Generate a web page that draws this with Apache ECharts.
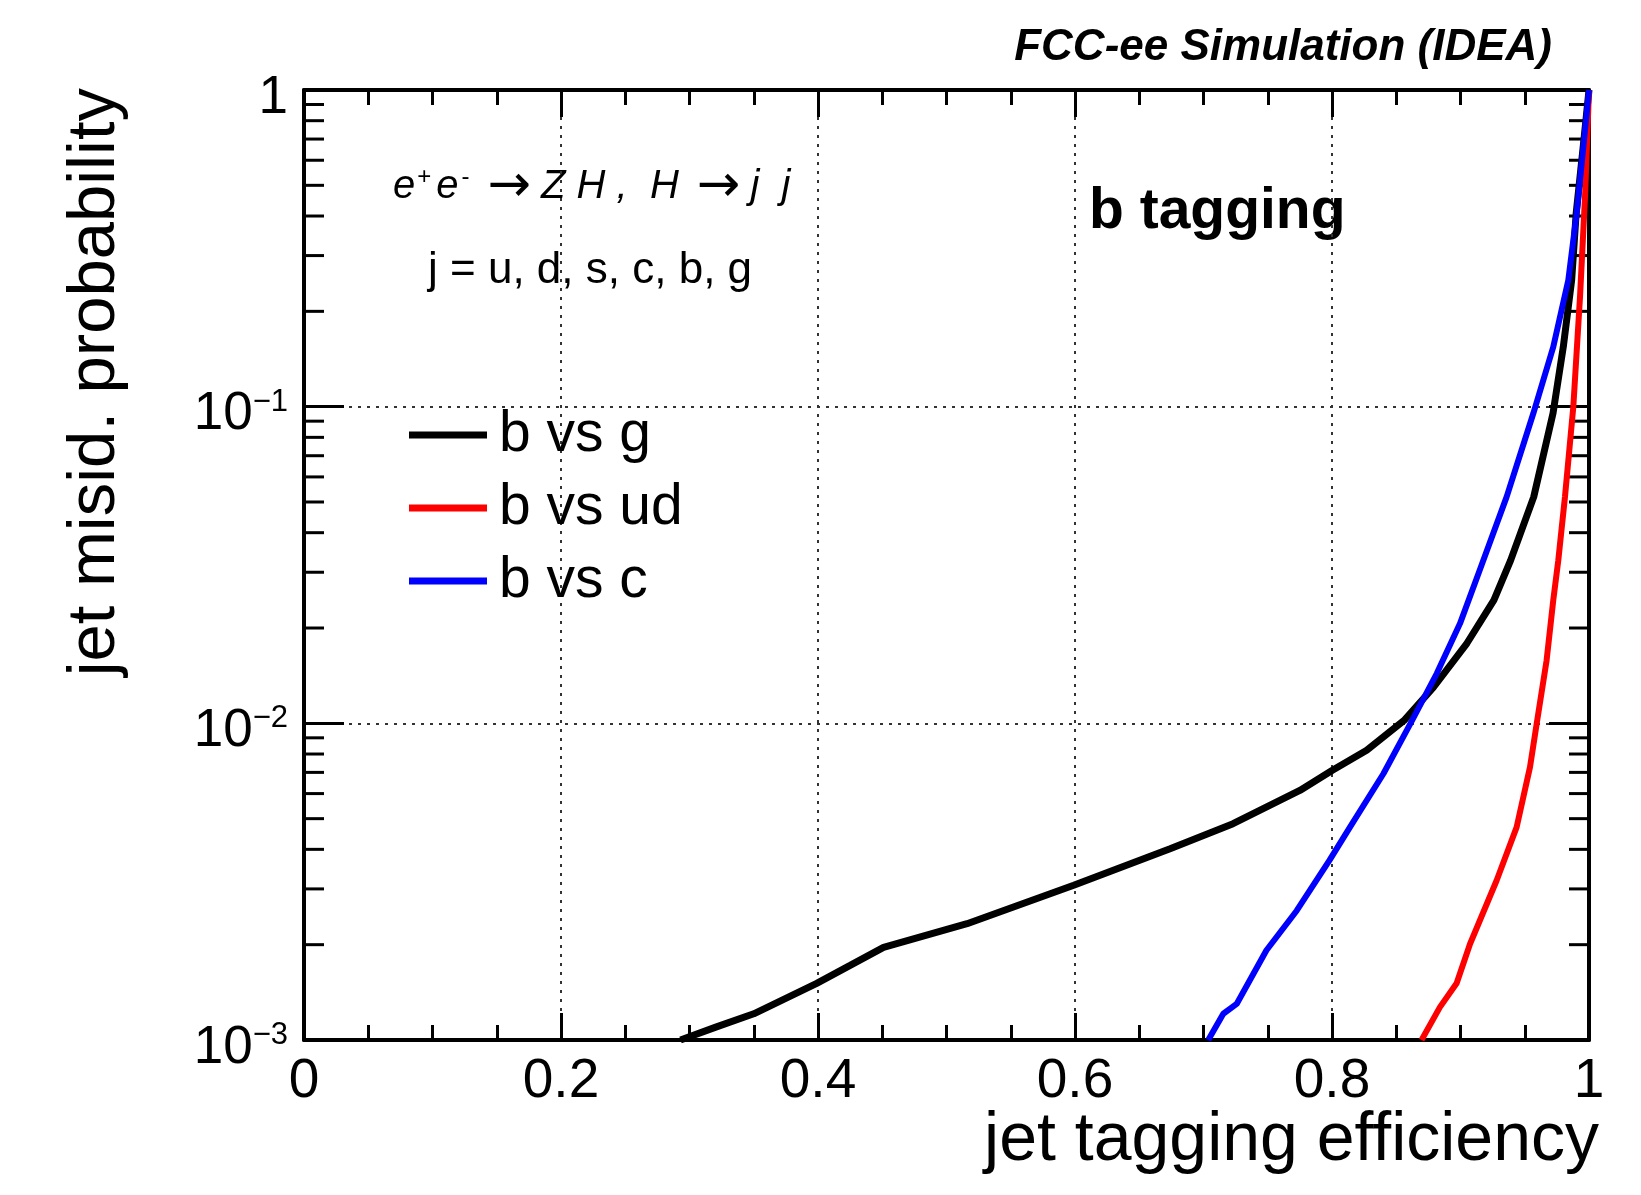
<!DOCTYPE html>
<html>
<head>
<meta charset="utf-8">
<title>b tagging</title>
<script src="https://cdn.jsdelivr.net/npm/echarts@6/dist/echarts.min.js"></script>
<style>
  html, body { margin: 0; padding: 0; background: #fff; }
  #chart { width: 1641px; height: 1195px; }
</style>
</head>
<body>
<div id="chart"></div>
<script>
// jet tagging efficiency vs misid. probability
const effBvsG = [0.293, 0.321, 0.350, 0.399, 0.425, 0.451, 0.516, 0.599, 0.674, 0.723, 0.775, 0.800, 0.827, 0.856, 0.879, 0.905, 0.926, 0.939, 0.957, 0.972, 0.980, 0.9865, 0.990, 0.9955, 1.0]
const misBvsG = [0.001, 0.0011, 0.00121, 0.00151, 0.00172, 0.00196, 0.00233, 0.00308, 0.00402, 0.00482, 0.00614, 0.0071, 0.00822, 0.0102, 0.0130, 0.0179, 0.0245, 0.0327, 0.0519, 0.0953, 0.1545, 0.251, 0.407, 0.662, 1.0]

const effBvsUd = [0.8697, 0.884, 0.897, 0.9074, 0.9281, 0.9437, 0.9541, 0.9593, 0.967, 0.9722, 0.9761, 0.9813, 0.9878, 0.993, 0.9969, 1.0]
const misBvsUd = [0.001, 0.00127, 0.00151, 0.00201, 0.00319, 0.0047, 0.00728, 0.00998, 0.0158, 0.0245, 0.0327, 0.0519, 0.1, 0.222, 0.46, 1.0]

const effBvsC = [0.7037, 0.7154, 0.7258, 0.749, 0.7725, 0.798, 0.814, 0.840, 0.861, 0.8815, 0.8996, 0.915, 0.9359, 0.9567, 0.9722, 0.9839, 0.9904, 0.9943, 0.9982, 1.0]
const misBvsC = [0.001, 0.00121, 0.0013, 0.00192, 0.00256, 0.00369, 0.0047, 0.00693, 0.00998, 0.01436, 0.02065, 0.0305, 0.0519, 0.0953, 0.1545, 0.251, 0.407, 0.586, 0.843, 1.0]

const seriesNames = ['b vs g', 'b vs ud', 'b vs c']

// log minor tick positions (2..9 x each decade)
const yMinorTicks = [0.002, 0.003, 0.004, 0.005, 0.006, 0.007, 0.008, 0.009,
  0.02, 0.03, 0.04, 0.05, 0.06, 0.07, 0.08, 0.09,
  0.2, 0.3, 0.4, 0.5, 0.6, 0.7, 0.8, 0.9]

const FONT = "'Liberation Sans', Arial, Helvetica, sans-serif"

const pairs = (xs, ys) => xs.map((x, i) => [x, ys[i]])

const gridLine = { show: true, lineStyle: { color: '#333', width: 2, type: [3, 6] } }
const frameLine = { show: true, onZero: false, lineStyle: { color: '#000', width: 4 } }

const myChart = echarts.init(document.getElementById('chart'))

const option = {
  backgroundColor: '#fff',
  animation: false,
  textStyle: { fontFamily: FONT, color: '#000' },
  grid: { left: 304, right: 52, top: 90, bottom: 155 },
  legend: {
    orient: 'vertical',
    left: 404,
    top: 400,
    itemWidth: 78,
    itemHeight: 7,
    itemGap: 13,
    icon: 'rect',
    selectedMode: false,
    data: seriesNames,
    textStyle: { fontSize: 57, lineHeight: 60, color: '#000', fontFamily: FONT, padding: [0, 0, 0, 7] }
  },
  xAxis: [
    {
      type: 'value', position: 'bottom', min: 0, max: 1, interval: 0.2,
      axisLine: frameLine,
      axisTick: { inside: true, length: 27, lineStyle: { color: '#000', width: 3 } },
      minorTick: { show: true, splitNumber: 4, length: 15, lineStyle: { color: '#000', width: 3 } },
      axisLabel: { fontSize: 55, margin: 14, color: '#000', fontFamily: FONT, showMinLabel: true, showMaxLabel: true },
      splitLine: gridLine
    },
    {
      type: 'value', position: 'top', min: 0, max: 1, interval: 0.2,
      axisLine: frameLine,
      axisTick: { inside: true, length: 27, lineStyle: { color: '#000', width: 3 } },
      minorTick: { show: true, splitNumber: 4, length: 15, lineStyle: { color: '#000', width: 3 } },
      axisLabel: { show: false },
      splitLine: { show: false }
    }
  ],
  yAxis: [
    {
      type: 'log', logBase: 10, position: 'left', min: 0.001, max: 1,
      axisLine: frameLine,
      axisTick: { inside: true, length: 40, lineStyle: { color: '#000', width: 3 } },
      axisLabel: {
        margin: 16,
        padding: [16, 0, 0, 0],
        showMinLabel: true, showMaxLabel: true,
        formatter: function (v) {
          const e = Math.round(Math.log10(v))
          if (e === 0) return '{b|1}'
          return '{b|10}{s|\u2212' + (-e) + '}'
        },
        rich: {
          b: { fontSize: 53, lineHeight: 56, color: '#000', fontFamily: FONT },
          s: { fontSize: 31, lineHeight: 34, verticalAlign: 'top', color: '#000', fontFamily: FONT }
        }
      },
      splitLine: gridLine
    },
    {
      type: 'log', logBase: 10, position: 'right', min: 0.001, max: 1,
      axisLine: frameLine,
      axisTick: { inside: true, length: 40, lineStyle: { color: '#000', width: 3 } },
      axisLabel: { show: false },
      splitLine: { show: false }
    }
  ],
  graphic: [
    {
      type: 'text', x: 1552, y: 48,
      style: { text: 'FCC-ee Simulation (IDEA)', fontSize: 44, fontWeight: 'bold', fontStyle: 'italic', fontFamily: FONT,
        fill: '#000', align: 'right', verticalAlign: 'middle', textAlign: 'right', textVerticalAlign: 'middle' }
    },
    {
      type: 'text', x: 1089, y: 212,
      style: { text: 'b tagging', fontSize: 57, fontWeight: 'bold', fontFamily: FONT,
        fill: '#000', align: 'left', verticalAlign: 'middle', textAlign: 'left', textVerticalAlign: 'middle' }
    },
    {
      type: 'text', x: 393, y: 187,
      style: {
        text: '{i|e}{s|+}{i|e}{m|-}{a|\u2192}{i|Z H ,  H}{a|\u2192}{i|j  j}',
        fill: '#000', align: 'left', verticalAlign: 'middle', textAlign: 'left', textVerticalAlign: 'middle',
        rich: {
          i: { fontSize: 40, fontStyle: 'italic', lineHeight: 44, fontFamily: FONT, fill: '#000' },
          s: { fontSize: 24, lineHeight: 24, verticalAlign: 'top', padding: [0, 5, 0, 2], fontFamily: FONT, fill: '#000' },
          m: { fontSize: 24, lineHeight: 24, verticalAlign: 'top', padding: [0, 0, 0, 3], fontFamily: FONT, fill: '#000' },
          a: { fontSize: 52, lineHeight: 44, padding: [0, 10, 0, 18], fontFamily: "'DejaVu Sans', sans-serif", fill: '#000' }
        }
      }
    },
    {
      type: 'text', x: 428, y: 271,
      style: { text: 'j = u, d, s, c, b, g', fontSize: 44, fontFamily: FONT,
        fill: '#000', align: 'left', verticalAlign: 'middle', textAlign: 'left', textVerticalAlign: 'middle' }
    },
    {
      type: 'text', x: 1599, y: 1141,
      style: { text: 'jet tagging efficiency', fontSize: 68, fontFamily: FONT,
        fill: '#000', align: 'right', verticalAlign: 'middle', textAlign: 'right', textVerticalAlign: 'middle' }
    },
    {
      type: 'text', x: 96, y: 88, rotation: Math.PI / 2,
      style: { text: 'jet misid. probability', fontSize: 67, fontFamily: FONT,
        fill: '#000', align: 'right', verticalAlign: 'middle', textAlign: 'right', textVerticalAlign: 'middle' }
    }
  ],
  series: [
    {
      type: 'custom',
      name: 'minor ticks',
      silent: true,
      clip: false,
      z: 1,
      data: yMinorTicks.map(v => [0, v]),
      renderItem: function (params, api) {
        const v = api.value(1)
        const l = api.coord([0, v])
        const r = api.coord([1, v])
        const st = { stroke: '#000', lineWidth: 3 }
        return {
          type: 'group',
          children: [
            { type: 'line', shape: { x1: l[0], y1: l[1], x2: l[0] + 20, y2: l[1] }, style: st },
            { type: 'line', shape: { x1: r[0] - 20, y1: r[1], x2: r[0], y2: r[1] }, style: st }
          ]
        }
      }
    },
    {
      name: 'b vs g', type: 'line', showSymbol: false, z: 3,
      color: '#000000',
      lineStyle: { width: 7, color: '#000000' },
      data: pairs(effBvsG, misBvsG)
    },
    {
      name: 'b vs ud', type: 'line', showSymbol: false, z: 4,
      color: '#ff0000',
      lineStyle: { width: 6, color: '#ff0000' },
      data: pairs(effBvsUd, misBvsUd)
    },
    {
      name: 'b vs c', type: 'line', showSymbol: false, z: 5,
      color: '#0000ff',
      lineStyle: { width: 6, color: '#0000ff' },
      data: pairs(effBvsC, misBvsC)
    }
  ]
}

myChart.setOption(option)
</script>
</body>
</html>
